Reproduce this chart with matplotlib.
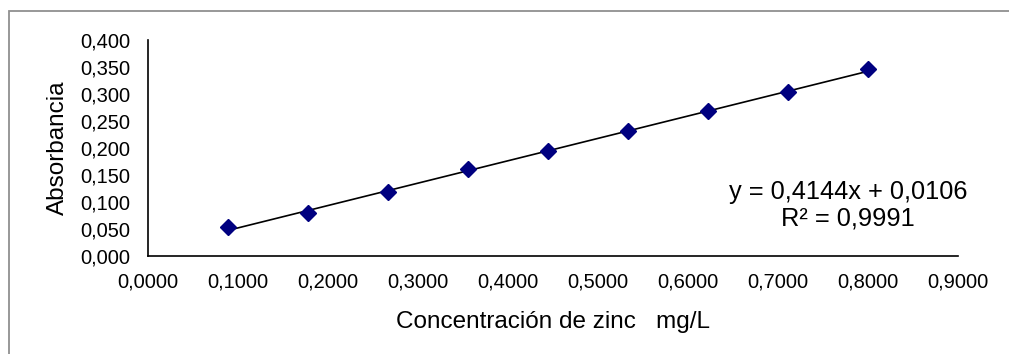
import matplotlib
matplotlib.use("Agg")
import matplotlib.pyplot as plt
import numpy as np
from matplotlib.ticker import FuncFormatter, MultipleLocator

plt.rcParams['font.family'] = ['Liberation Sans', 'DejaVu Sans']

# concentraciones (mg/L) y absorbancias
concentracion = [0.0889, 0.1778, 0.2667, 0.3556, 0.4444, 0.5333, 0.6222, 0.7111, 0.8000]
absorbancia = [0.053, 0.080, 0.119, 0.161, 0.194, 0.232, 0.269, 0.303, 0.346]
pendiente = 0.4144
intercepto = 0.0106
r2 = 0.9991

fig = plt.figure(figsize=(10.09, 3.54), dpi=100)
fig.patches.append(plt.Rectangle((8.5 / 1009, -0.1), 1.2, 1.1 - 11.5 / 354,
                                 transform=fig.transFigure, fill=False,
                                 edgecolor='#909090', linewidth=1.3))
ax = fig.add_axes([148 / 1009, 1 - 256 / 354, 810 / 1009, 216 / 354])

x = np.array(concentracion)
xl = np.array([x.min(), x.max()])
ax.plot(xl, pendiente * xl + intercepto, color='black', linewidth=1.2, zorder=2)
ax.plot(concentracion, absorbancia, linestyle='none', marker='D', markersize=8.5,
        color='#000080', zorder=3)

ax.set_xlim(0, 0.9)
ax.set_ylim(0, 0.4)
ax.xaxis.set_major_locator(MultipleLocator(0.1))
ax.yaxis.set_major_locator(MultipleLocator(0.05))
ax.xaxis.set_major_formatter(FuncFormatter(lambda v, p: f"{v:.4f}".replace('.', ',')))
ax.yaxis.set_major_formatter(FuncFormatter(lambda v, p: f"{v:.3f}".replace('.', ',')))
ax.tick_params(length=0, labelsize=14.5)
ax.tick_params(axis='y', pad=13)
ax.tick_params(axis='x', pad=12)
for s in ['top', 'right']:
    ax.spines[s].set_visible(False)
for s in ['left', 'bottom']:
    ax.spines[s].set_linewidth(1.2)

ax.set_xlabel("Concentración de zinc   mg/L", fontsize=17.5, labelpad=14)
ax.set_ylabel("Absorbancia", fontsize=17.5, labelpad=8)

eq = f"y = {pendiente:.4f}x + {intercepto:.4f}".replace('.', ',')
r2_txt = f"R² = {r2:.4f}".replace('.', ',')
ax.text(0.864, (256 - 191.5) / 216, eq, transform=ax.transAxes,
        ha='center', va='center', fontsize=18.3)
ax.text(0.864, (256 - 218.5) / 216, r2_txt, transform=ax.transAxes,
        ha='center', va='center', fontsize=18.3)

fig.savefig("out.png", dpi=100)
